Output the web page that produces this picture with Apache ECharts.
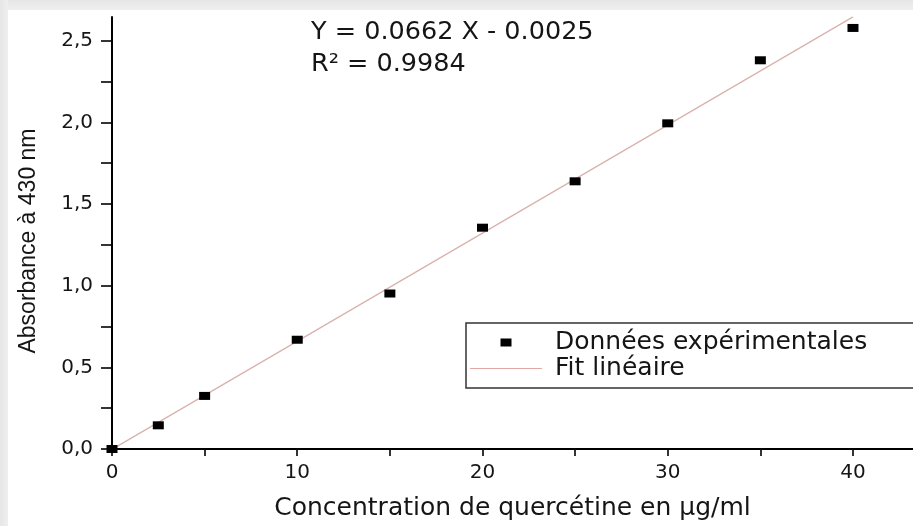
<!DOCTYPE html>
<html>
<head>
<meta charset="utf-8">
<script src="https://cdn.jsdelivr.net/npm/echarts@6/dist/echarts.min.js"></script>
<style>
  html, body { margin: 0; padding: 0; background: #ffffff; }
  #chart { width: 913px; height: 526px; }
</style>
</head>
<body>
<div id="chart"></div>
<script>
// ---- data ----
const concentrations = [0, 2.5, 5, 10, 15, 20, 25, 30, 35, 40];
const absorbances    = [0.0, 0.145, 0.325, 0.669, 0.952, 1.355, 1.639, 1.994, 2.38, 2.578];
const fitLinePoints  = [[0, -0.0025], [40, 2.6455]];
const xTickValues  = [0, 5, 10, 15, 20, 25, 30, 35, 40];
const xLabelValues = [0, 10, 20, 30, 40];
const yTickValues  = [0, 0.25, 0.5, 0.75, 1.0, 1.25, 1.5, 1.75, 2.0, 2.25, 2.5];
const yLabelValues = [0, 0.5, 1.0, 1.5, 2.0, 2.5];
const seriesNames = ['Données expérimentales', 'Fit linéaire'];
const equationText = 'Y = 0.0662 X - 0.0025';
const r2Text = 'R\u00B2 = 0.9984';
const xAxisTitle = 'Concentration de quercétine en \u00B5g/ml';
const yAxisTitle = 'Absorbance à 430 nm';

const scatterData = concentrations.map((x, i) => [x, absorbances[i]]);

const chart = echarts.init(document.getElementById('chart'), null, { renderer: 'canvas' });
const txt = '#151515';
const fitColor = '#d9b2ad';

chart.setOption({
  animation: false,
  backgroundColor: '#ffffff',
  grid: { left: 112, top: 17, right: 0, bottom: 70 },
  xAxis: {
    type: 'value',
    min: 0, max: 43.24,
    name: xAxisTitle,
    nameLocation: 'middle',
    nameGap: 47,
    nameTextStyle: { fontFamily: 'DejaVu Sans', fontSize: 25, color: txt },
    axisLine: { show: true, onZero: true, lineStyle: { color: '#000', width: 2 } },
    axisTick: { show: true, length: 7, customValues: xTickValues, lineStyle: { color: '#000', width: 1.6 } },
    axisLabel: { customValues: xLabelValues, margin: 14, fontFamily: 'DejaVu Sans', fontSize: 20, color: txt,
                 formatter: v => String(v) },
    splitLine: { show: false }
  },
  yAxis: {
    type: 'value',
    min: 0, max: 2.645,
    name: yAxisTitle,
    nameLocation: 'middle',
    nameGap: 72,
    nameTextStyle: { fontFamily: 'Liberation Sans', fontSize: 23, color: txt, padding: [0, 16, 0, 0] },
    axisLine: { show: true, lineStyle: { color: '#000', width: 2 } },
    axisTick: { show: true, length: 11, customValues: yTickValues, lineStyle: { color: '#000', width: 1.6 } },
    axisLabel: { customValues: yLabelValues, margin: 19, fontFamily: 'DejaVu Sans', fontSize: 20, color: txt,
                 formatter: v => v.toFixed(1).replace('.', ',') },
    splitLine: { show: false }
  },
  legend: {
    orient: 'vertical',
    left: 466, top: 323,
    padding: [7, 60, 7, 4],
    itemGap: 1,
    itemWidth: 72,
    itemHeight: 8,
    borderColor: '#333',
    borderWidth: 1.5,
    backgroundColor: '#ffffff',
    formatter: name => ' ' + name,
    textStyle: { fontFamily: 'DejaVu Sans', fontSize: 25, color: txt },
    data: [
      { name: seriesNames[0], icon: 'path://M0,0H11V8H0Z', itemStyle: { color: '#000', opacity: 1 } },
      { name: seriesNames[1], icon: 'path://M0,0H72V1.2H0Z', itemStyle: { color: '#e2a8a4', opacity: 1 } }
    ]
  },
  graphic: [
    { type: 'rect', left: 0, top: 0, shape: { width: 913, height: 10 }, silent: true,
      style: { fill: new echarts.graphic.LinearGradient(0, 0, 0, 1, [
        { offset: 0, color: '#e6e6e6' }, { offset: 1, color: '#efefef' }]) } },
    { type: 'rect', left: 0, top: 0, shape: { width: 8, height: 526 }, silent: true,
      style: { fill: new echarts.graphic.LinearGradient(0, 0, 1, 0, [
        { offset: 0, color: '#e6e6e6' }, { offset: 1, color: '#efefef' }]) } },
    { type: 'text', left: 311, top: 19, silent: true,
      style: { text: equationText, fontFamily: 'DejaVu Sans', fontSize: 25.5, fill: txt } },
    { type: 'text', left: 311, top: 51, silent: true,
      style: { text: r2Text, fontFamily: 'DejaVu Sans', fontSize: 25.5, fill: txt } }
  ],
  series: [
    {
      name: seriesNames[1],
      type: 'line',
      data: fitLinePoints,
      symbol: 'none',
      lineStyle: { color: fitColor, width: 1.3 },
      itemStyle: { color: fitColor },
      z: 2
    },
    {
      name: seriesNames[0],
      type: 'scatter',
      data: scatterData,
      symbol: 'rect',
      symbolSize: [11, 8],
      itemStyle: { color: '#000', opacity: 1 },
      z: 3
    }
  ]
});
</script>
</body>
</html>
